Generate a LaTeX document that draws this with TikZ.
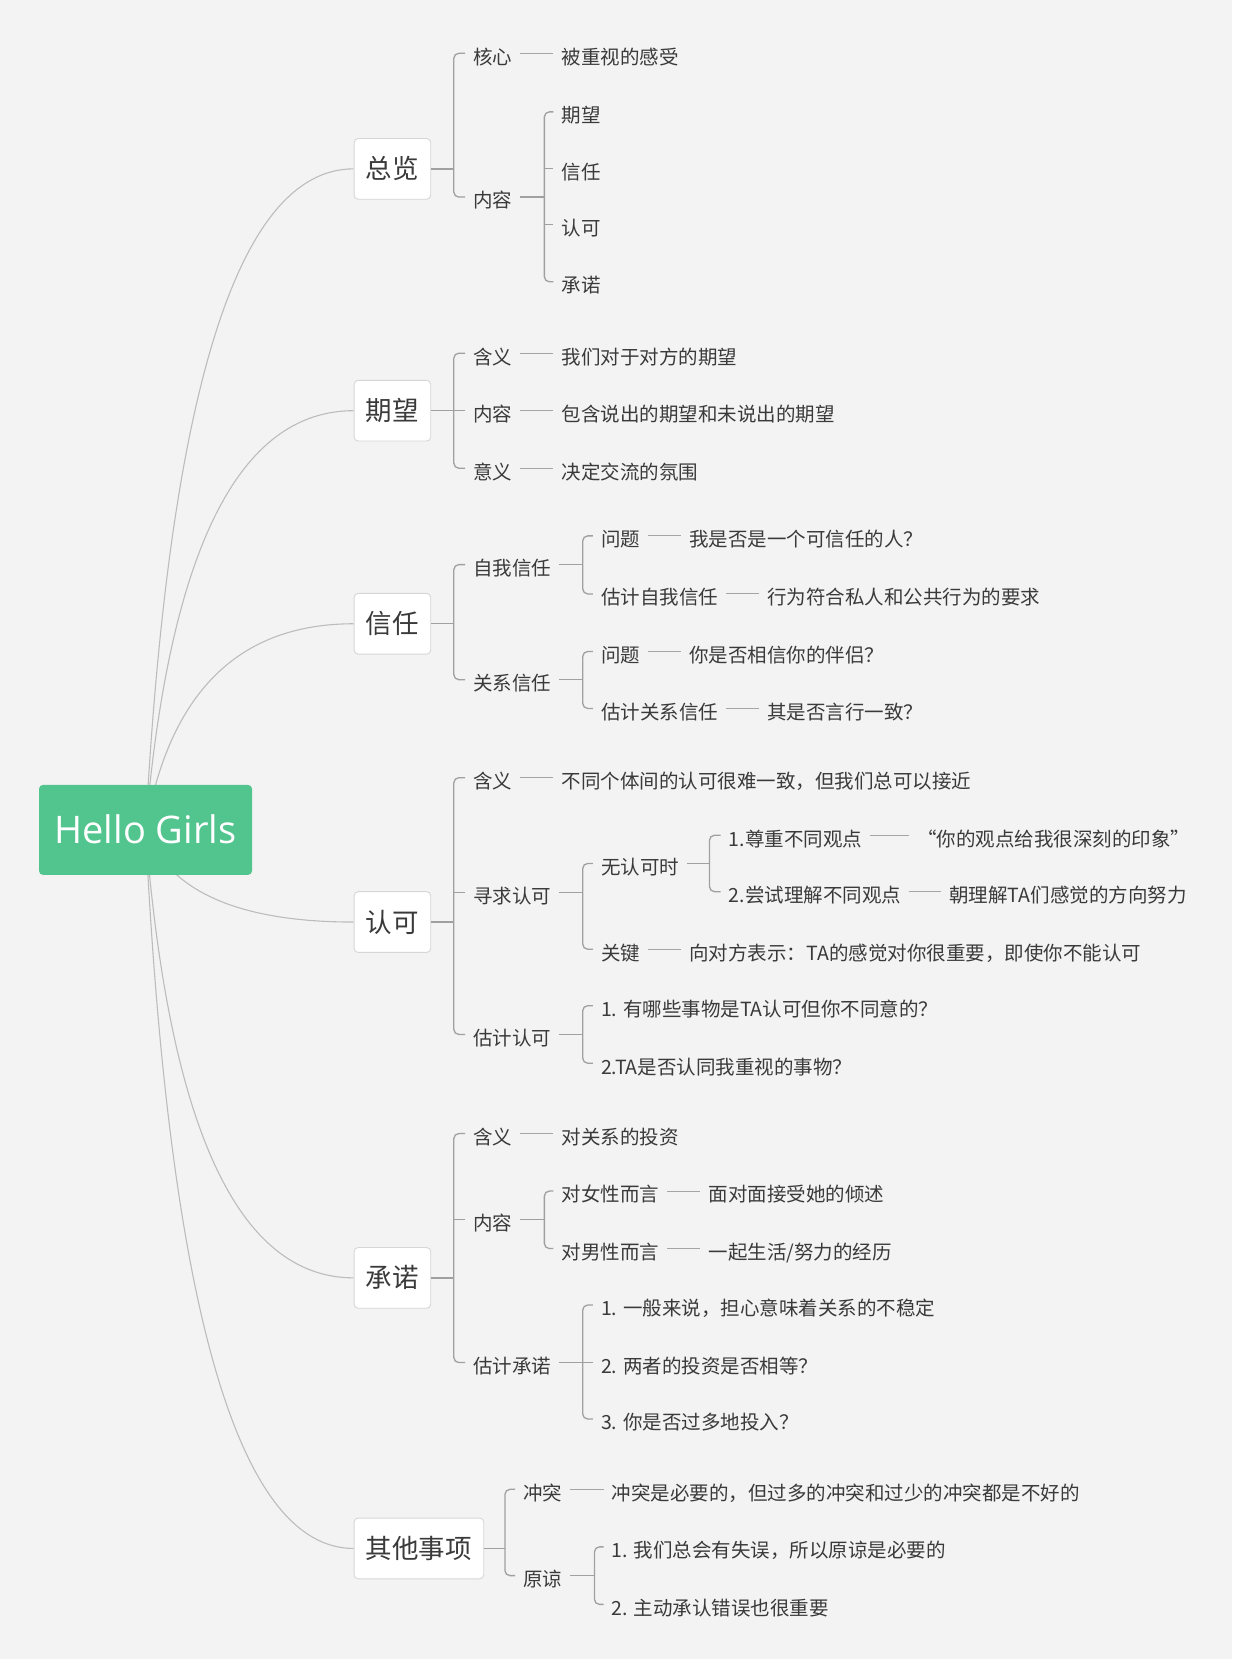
\documentclass[tikz,border=0pt]{standalone}
\usepackage{fontspec}
\usetikzlibrary{calc}
\newfontfamily\cjk{Noto Sans CJK SC}
\newfontfamily\rootfont{Open Sans}
\definecolor{bgcol}{RGB}{243,243,243}
\definecolor{txt}{RGB}{58,58,58}
\definecolor{brline}{RGB}{160,160,160}
\definecolor{dlline}{RGB}{165,165,165}
\definecolor{cvline}{RGB}{188,188,188}
\definecolor{boxline}{RGB}{214,214,214}
\definecolor{rootgreen}{RGB}{82,196,141}
\pgfdeclarelayer{bg}
\pgfdeclarelayer{curves}
\pgfsetlayers{bg,curves,main}
\newcommand\brtree[4]{%
  \draw[br] (#1.east) -- (#1.east -| #2);
  \draw[br,rounded corners=5pt] (#3.west) -- (#3.west -| #2) -- (#4.west -| #2) -- (#4.west);}
\newcommand\brmid[2]{\draw[br] (#2.west -| #1) -- (#2.west);}
\tikzset{
  lbl/.style={anchor=west, inner xsep=8pt, inner ysep=0pt, text height=21.8pt, text depth=0pt,
    font=\cjk\fontsize{19.5pt}{22pt}\selectfont, text=txt},
  topic/.style={anchor=west, draw=boxline, fill=white, rounded corners=4pt, line width=0.9pt,
    inner xsep=11.8pt, inner ysep=0pt, minimum height=60.7pt, text height=20pt, text depth=0pt,
    font=\cjk\fontsize{26.5pt}{30pt}\selectfont, text=txt},
  rootbox/.style={fill=rootgreen, rounded corners=4pt, minimum width=213pt, minimum height=90pt,
    text height=27.2pt, text depth=0pt, inner sep=0pt,
    font=\rootfont\fontsize{38pt}{44pt}\selectfont, text=white},
  br/.style={draw=brline, line width=1.3pt},
  dl/.style={draw=dlline, line width=1pt},
  cv/.style={draw=cvline, line width=1.1pt},
}
\begin{document}
\begin{tikzpicture}[x=1.0653pt, y=-1.0653pt]
\useasboundingbox (0,0) rectangle (1164,1567.6);
\begin{pgfonlayer}{bg}
  \fill[white] (0,0) rectangle (1164,1567.6);
  \fill[bgcol] (0,0) rectangle (1156.5,1557.3);
\end{pgfonlayer}

% bracket columns
\coordinate (bA) at (426,0);
\coordinate (bO) at (474,0);
\coordinate (bB) at (511,0);
\coordinate (bC) at (547,0);
\coordinate (bD) at (666,0);
\coordinate (bE) at (558,0);

% root and main topics
\node[rootbox] (r) at (136.6,779) {Hello Girls};
\node[topic] (n1) at (332,158.5) {总览};
\node[topic] (n2) at (332,385.5) {期望};
\node[topic] (n3) at (332,585.5) {信任};
\node[topic] (n4) at (332,865.5) {认可};
\node[topic] (n5) at (332,1199.5) {承诺};
\node[topic] (n6) at (332,1453.5) {其他事项};

\begin{pgfonlayer}{curves}
\foreach \b in {n1,n2,n3,n4,n5,n6}{
  \coordinate (k\b) at ($(r.center |- \b.west)!0.17!(\b.west)$);
  \draw[cv] (r.center) .. controls ($(r.center)!0.6667!(k\b)$) and ($(\b.west)!0.6667!(k\b)$) .. (\b.west);
}
\end{pgfonlayer}

% 总览
\node[lbl] (a1) at (436.5,50) {核心};
\node[lbl] (a1v) at (519.5,50) {被重视的感受};
\node[lbl] (a2) at (436.5,185) {内容};
\node[lbl] (a21) at (519.5,105) {期望};
\node[lbl] (a22) at (519.5,158) {信任};
\node[lbl] (a23) at (519.5,211) {认可};
\node[lbl] (a24) at (519.5,264.5) {承诺};
\brtree{n1}{bA}{a1}{a2}
\draw[dl] (a1.east) -- (a1v.west);
\brtree{a2}{bB}{a21}{a24}
\brmid{bB}{a22}
\brmid{bB}{a23}

% 期望
\node[lbl] (b1) at (436.5,331.5) {含义};
\node[lbl] (b1v) at (519.5,331.5) {我们对于对方的期望};
\node[lbl] (b2) at (436.5,385.5) {内容};
\node[lbl] (b2v) at (519.5,385.5) {包含说出的期望和未说出的期望};
\node[lbl] (b3) at (436.5,439.5) {意义};
\node[lbl] (b3v) at (519.5,439.5) {决定交流的氛围};
\brtree{n2}{bA}{b1}{b3}
\brmid{bA}{b2}
\draw[dl] (b1.east) -- (b1v.west);
\draw[dl] (b2.east) -- (b2v.west);
\draw[dl] (b3.east) -- (b3v.west);

% 信任
\node[lbl] (c1) at (436.5,530) {自我信任};
\node[lbl] (c11) at (556.5,503) {问题};
\node[lbl] (c11v) at (639.5,503) {我是否是一个可信任的人？};
\node[lbl] (c12) at (556.5,557.5) {估计自我信任};
\node[lbl] (c12v) at (712.5,557.5) {行为符合私人和公共行为的要求};
\node[lbl] (c2) at (436.5,638) {关系信任};
\node[lbl] (c21) at (556.5,611.5) {问题};
\node[lbl] (c21v) at (639.5,611.5) {你是否相信你的伴侣？};
\node[lbl] (c22) at (556.5,665) {估计关系信任};
\node[lbl] (c22v) at (712.5,665) {其是否言行一致？};
\brtree{n3}{bA}{c1}{c2}
\brtree{c1}{bC}{c11}{c12}
\brtree{c2}{bC}{c21}{c22}
\draw[dl] (c11.east) -- (c11v.west);
\draw[dl] (c12.east) -- (c12v.west);
\draw[dl] (c21.east) -- (c21v.west);
\draw[dl] (c22.east) -- (c22v.west);

% 认可
\node[lbl] (d1) at (436.5,730) {含义};
\node[lbl] (d1v) at (519.5,730) {不同个体间的认可很难一致，但我们总可以接近};
\node[lbl] (d2) at (436.5,837.5) {寻求认可};
\node[lbl] (d21) at (556.5,810.5) {无认可时};
\node[lbl] (d211) at (676.5,784) {1.尊重不同观点};
\node[lbl] (d211v) at (853.5,784) {“你的观点给我很深刻的印象”};
\node[lbl] (d212) at (676.5,837) {2.尝试理解不同观点};
\node[lbl] (d212v) at (883.5,837) {朝理解TA们感觉的方向努力};
\node[lbl] (d22) at (556.5,891) {关键};
\node[lbl] (d22v) at (639.5,891) {向对方表示：TA的感觉对你很重要，即使你不能认可};
\node[lbl] (d3) at (436.5,971) {估计认可};
\node[lbl] (d31) at (556.5,944) {1. 有哪些事物是TA认可但你不同意的？};
\node[lbl] (d32) at (556.5,998) {2.TA是否认同我重视的事物？};
\brtree{n4}{bA}{d1}{d3}
\brmid{bA}{d2}
\draw[dl] (d1.east) -- (d1v.west);
\brtree{d2}{bC}{d21}{d22}
\brtree{d21}{bD}{d211}{d212}
\draw[dl] (d211.east) -- (d211v.west);
\draw[dl] (d212.east) -- (d212v.west);
\draw[dl] (d22.east) -- (d22v.west);
\brtree{d3}{bC}{d31}{d32}

% 承诺
\node[lbl] (e1) at (436.5,1064) {含义};
\node[lbl] (e1v) at (519.5,1064) {对关系的投资};
\node[lbl] (e2) at (436.5,1145) {内容};
\node[lbl] (e21) at (519.5,1118) {对女性而言};
\node[lbl] (e21v) at (657.5,1118) {面对面接受她的倾述};
\node[lbl] (e22) at (519.5,1172) {对男性而言};
\node[lbl] (e22v) at (657.5,1172) {一起生活/努力的经历};
\node[lbl] (e3) at (436.5,1279) {估计承诺};
\node[lbl] (e31) at (556.5,1225) {1. 一般来说，担心意味着关系的不稳定};
\node[lbl] (e32) at (556.5,1279) {2. 两者的投资是否相等？};
\node[lbl] (e33) at (556.5,1332) {3. 你是否过多地投入？};
\brtree{n5}{bA}{e1}{e3}
\brmid{bA}{e2}
\draw[dl] (e1.east) -- (e1v.west);
\brtree{e2}{bB}{e21}{e22}
\draw[dl] (e21.east) -- (e21v.west);
\draw[dl] (e22.east) -- (e22v.west);
\brtree{e3}{bC}{e31}{e33}
\brmid{bC}{e32}

% 其他事项
\node[lbl] (f1) at (483.5,1398) {冲突};
\node[lbl] (f1v) at (566.5,1398) {冲突是必要的，但过多的冲突和过少的冲突都是不好的};
\node[lbl] (f2) at (483.5,1479) {原谅};
\node[lbl] (f21) at (566.5,1452) {1. 我们总会有失误，所以原谅是必要的};
\node[lbl] (f22) at (566.5,1506) {2. 主动承认错误也很重要};
\brtree{n6}{bO}{f1}{f2}
\draw[dl] (f1.east) -- (f1v.west);
\brtree{f2}{bE}{f21}{f22}
\end{tikzpicture}
\end{document}
